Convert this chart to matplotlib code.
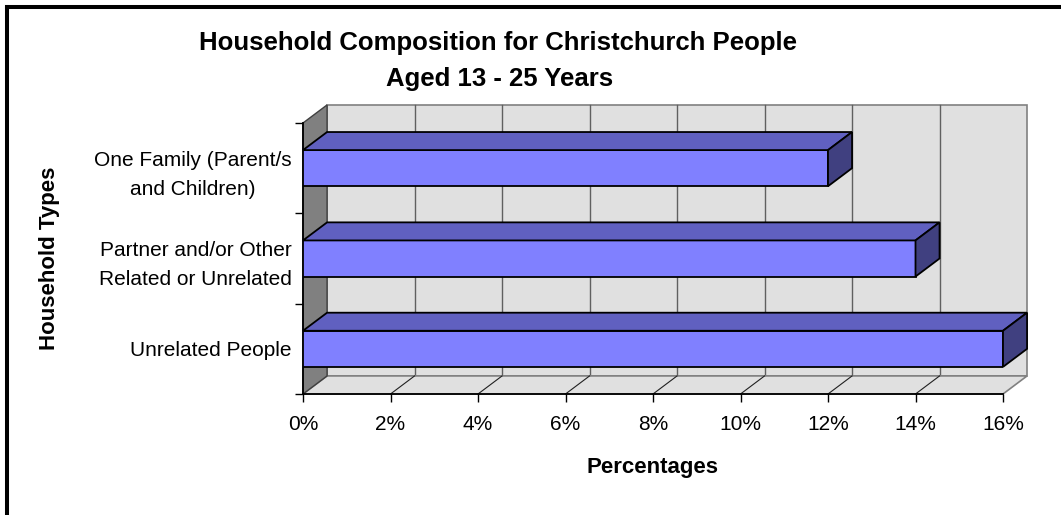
import matplotlib.pyplot as plt
from matplotlib.patches import Polygon, Rectangle
from matplotlib.lines import Line2D

plt.rcParams['font.family'] = ['Liberation Sans', 'DejaVu Sans']

# household types, bottom to top
categories = ['Unrelated People',
              'Partner and/or Other\nRelated or Unrelated',
              'One Family (Parent/s\nand Children)']
values = [16, 14, 12]
xticks = [0, 2, 4, 6, 8, 10, 12, 14, 16]
xticklabels = ['0%', '2%', '4%', '6%', '8%', '10%', '12%', '14%', '16%']

W, H = 1061, 515
fig = plt.figure(figsize=(W / 100, H / 100), dpi=100)
ax = fig.add_axes([303 / W, 121 / H, 700 / W, 271 / H])
ax.set_xlim(0, 16)
ax.set_ylim(-0.5, 2.5)
ax.patch.set_visible(False)

# depth of the 3d box, in data units
dx, dy = 0.55, 0.2
x0, x1 = 0, 16
y0, y1 = -0.5, 2.5

# back wall + gridlines
ax.add_patch(Rectangle((x0 + dx, y0 + dy), x1 - x0, y1 - y0, fc='#e0e0e0',
                       ec='#808080', lw=1.2, clip_on=False, zorder=0.5))
for t in xticks[1:-1]:
    ax.plot([t + dx, t + dx], [y0 + dy, y1 + dy], color='#606060', lw=1.0,
            clip_on=False, zorder=0.6)

# floor
ax.add_patch(Polygon([(x0, y0), (x1, y0), (x1 + dx, y0 + dy), (x0 + dx, y0 + dy)],
                     closed=True, fc='#e0e0e0', ec='#808080', lw=1.2,
                     clip_on=False, zorder=0.7))
for t in xticks[1:-1]:
    ax.plot([t, t + dx], [y0, y0 + dy], color='#202020', lw=0.8,
            clip_on=False, zorder=0.8)

# side wall
ax.add_patch(Polygon([(x0, y0), (x0 + dx, y0 + dy), (x0 + dx, y1 + dy), (x0, y1)],
                     closed=True, fc='#808080', ec='#404040', lw=1.0,
                     clip_on=False, zorder=0.9))

# bars: front face, top face and end face
h = 0.4
ypos = list(range(len(values)))
ax.barh(ypos, values, height=h, color='#8080ff', edgecolor='black', lw=1.3,
        zorder=3)
for y, v in zip(ypos, values):
    top = [(0, y + h / 2), (v, y + h / 2), (v + dx, y + h / 2 + dy), (dx, y + h / 2 + dy)]
    end = [(v, y - h / 2), (v + dx, y - h / 2 + dy), (v + dx, y + h / 2 + dy), (v, y + h / 2)]
    ax.add_patch(Polygon(top, closed=True, fc='#6060c0', ec='black', lw=1.3,
                         clip_on=False, zorder=3))
    ax.add_patch(Polygon(end, closed=True, fc='#404080', ec='black', lw=1.3,
                         clip_on=False, zorder=3))

# axes and ticks
for s in ['top', 'right']:
    ax.spines[s].set_visible(False)
for s in ['left', 'bottom']:
    ax.spines[s].set_color('black')
    ax.spines[s].set_linewidth(1.3)
    ax.spines[s].set_zorder(2.5)

ax.set_xticks(xticks)
ax.set_xticklabels(xticklabels, fontsize=15)
ax.tick_params(axis='x', length=6, width=1, pad=9)
ax.set_yticks([-0.5, 0.5, 1.5, 2.5])
ax.set_yticklabels([])
ax.tick_params(axis='y', which='major', length=6, width=1)
ax.set_yticks(ypos, minor=True)
ax.set_yticklabels(categories, minor=True, fontsize=15, multialignment='center',
                   linespacing=1.65)
ax.tick_params(axis='y', which='minor', length=0, pad=8)

# titles
fig.text(498 / W, 1 - 43 / H, 'Household Composition for Christchurch People',
         ha='center', va='center', fontsize=18.5, fontweight='bold')
fig.text(500 / W, 1 - 79 / H, 'Aged 13 - 25 Years',
         ha='center', va='center', fontsize=18.5, fontweight='bold')
fig.text(50 / W, 1 - 258 / H, 'Household Types', rotation=90,
         ha='center', va='center', fontsize=16, fontweight='bold')
fig.text(652 / W, 1 - 468 / H, 'Percentages',
         ha='center', va='center', fontsize=16, fontweight='bold')

# chart area frame (top and left edges)
fig.add_artist(Line2D([7 / W, 1], [1 - 7 / H, 1 - 7 / H], transform=fig.transFigure,
                      color='black', lw=2.9))
fig.add_artist(Line2D([7 / W, 7 / W], [0, 1 - 7 / H], transform=fig.transFigure,
                      color='black', lw=2.9, solid_capstyle='projecting'))

fig.savefig('out.png', dpi=100)
